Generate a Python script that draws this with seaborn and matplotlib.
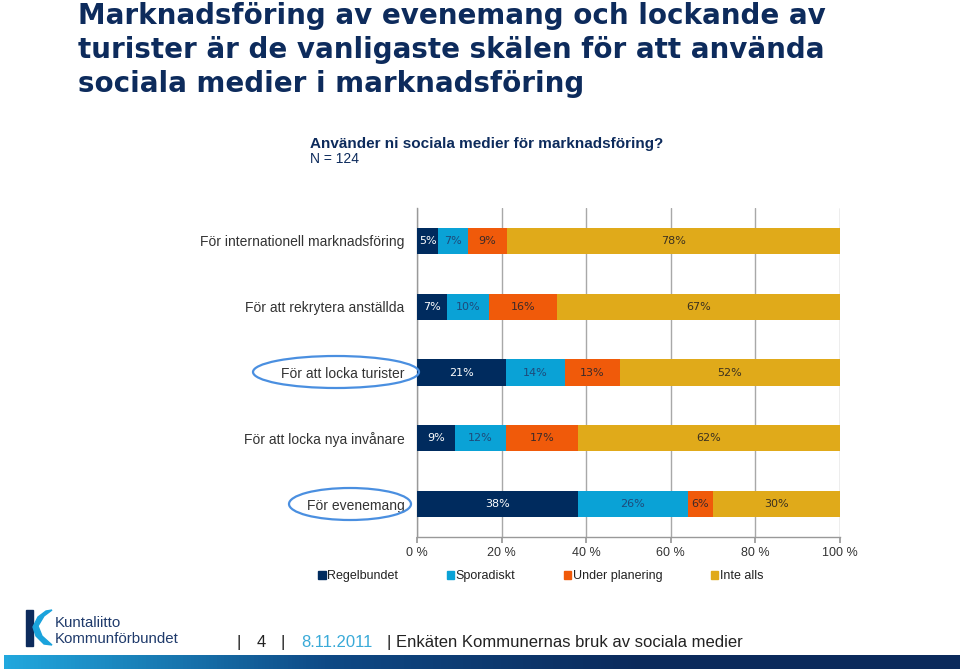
import numpy as np
import pandas as pd
import matplotlib
matplotlib.use("Agg")
import matplotlib.pyplot as plt
import seaborn as sns
from matplotlib.patches import Ellipse, Rectangle, Polygon
from matplotlib import font_manager

# ---------------- data ----------------
categories = ["För internationell marknadsföring", "För att rekrytera anställda",
              "För att locka turister", "För att locka nya invånare", "För evenemang"]
regelbundet = [5, 7, 21, 9, 38]
sporadiskt = [7, 10, 14, 12, 26]
under_planering = [9, 16, 13, 17, 6]
inte_alls = [78, 67, 52, 62, 30]
series_names = ["Regelbundet", "Sporadiskt", "Under planering", "Inte alls"]
xtick_labels = ["0 %", "20 %", "40 %", "60 %", "80 %", "100 %"]

colors = ["#002B5E", "#0AA2D6", "#F05A0A", "#E0AA1A"]
label_colors = ["white", "#1E4A7A", "#3A2A2A", "#3A3020"]

sns.set_theme(style="white")
avail = {f.name for f in font_manager.fontManager.ttflist}
base_font = "Liberation Sans" if "Liberation Sans" in avail else "DejaVu Sans"
plt.rcParams["font.family"] = [base_font, "DejaVu Sans"]

W, H = 960, 671
fig = plt.figure(figsize=(W / 100, H / 100), dpi=100)

# ---------------- chart ----------------
ax = fig.add_axes([417 / W, 1 - 537 / H, (840 - 417) / W, (537 - 208) / H])

vals = np.array([regelbundet, sporadiskt, under_planering, inte_alls], dtype=float)
shares = vals / vals.sum(axis=0) * 100
cum = np.cumsum(shares, axis=0)

for i in range(3, -1, -1):
    df = pd.DataFrame({"cat": categories, "v": cum[i]})
    sns.barplot(data=df, x="v", y="cat", orient="h", color=colors[i],
                width=0.4, saturation=1, ax=ax, zorder=3, edgecolor="none",
                linewidth=0)

for i in range(4):
    for j in range(len(categories)):
        left = cum[i, j] - shares[i, j]
        ax.text(left + shares[i, j] / 2, j, f"{int(vals[i, j])}%", ha="center",
                va="center", fontsize=8, color=label_colors[i], zorder=5,
                family="DejaVu Sans")

ax.set_xlim(0, 100)
ax.set_ylim(len(categories) - 0.5, -0.5)
ax.set_xticks([0, 20, 40, 60, 80, 100])
ax.set_xticklabels(xtick_labels, fontsize=9, color="#333333")
ax.set_yticks(range(len(categories)))
ax.set_yticklabels(categories, fontsize=10, color="#333333")
ax.set_yticks(np.arange(-0.5, len(categories)), minor=True)
ax.tick_params(axis="y", which="major", length=0, pad=9)
ax.tick_params(axis="y", which="minor", length=4, color="#999999", direction="out")
ax.tick_params(axis="x", length=4, color="#999999", direction="out", pad=3, bottom=True)
ax.set_xlabel("")
ax.set_ylabel("")
ax.grid(axis="x", color="#A8A8A8", linewidth=1, zorder=0)
ax.set_axisbelow(True)
for s in ["top", "right"]:
    ax.spines[s].set_visible(False)
for s in ["left", "bottom"]:
    ax.spines[s].set_color("#999999")
    ax.spines[s].set_linewidth(1)

handles = [Rectangle((0, 0), 1, 1, color=c) for c in colors]
leg = fig.legend(handles, series_names, loc="center left", ncol=4,
                 bbox_to_anchor=(318 / W, 1 - 576 / H), frameon=False,
                 fontsize=9, handlelength=0.6, handleheight=0.6, handletextpad=0.15,
                 columnspacing=3.85, borderaxespad=0, borderpad=0)
for t in leg.get_texts():
    t.set_color("#222222")

# ---------------- overlay: titles, ellipses, footer ----------------
ov = fig.add_axes([0, 0, 1, 1], zorder=10)
ov.set_xlim(0, W)
ov.set_ylim(H, 0)
ov.axis("off")
ov.patch.set_alpha(0)

title_lines = ["Marknadsföring av evenemang och lockande av",
               "turister är de vanligaste skälen för att använda",
               "sociala medier i marknadsföring"]
for k, line in enumerate(title_lines):
    ov.text(78, 24 + 34 * k, line, fontsize=20, fontweight="bold", color="#0D2B5C",
            ha="left", va="baseline", family="DejaVu Sans")

ov.text(310, 148, "Använder ni sociala medier för marknadsföring?", fontsize=11,
        fontweight="bold", color="#0D2B5C", ha="left", va="baseline")
ov.text(310, 163, "N = 124", fontsize=10, color="#0D2B5C", ha="left", va="baseline")

for (cx, cy, w, h) in [(336, 372, 166, 32), (350, 504, 122, 32)]:
    ov.add_patch(Ellipse((cx, cy), w, h, fill=False, edgecolor="#4A8FE0", linewidth=1.6))

# logo
ov.add_patch(Rectangle((26, 610), 7, 36, color="#0D2B5C"))
ov.add_patch(Polygon([(33, 627), (38, 617), (46, 611), (52, 610), (44, 616), (38, 626),
                      (42, 636), (52, 645), (44, 644), (36, 636)],
                     closed=True, color="#1AA3DC"))
ov.text(55, 627, "Kuntaliitto", fontsize=10.8, color="#1F3A6B", va="baseline")
ov.text(55, 643, "Kommunförbundet", fontsize=10.8, color="#1F3A6B", va="baseline")

fy = 647
ov.text(237, fy, "|", fontsize=12, color="#222222", va="baseline")
ov.text(257, fy, "4", fontsize=12, color="#222222", va="baseline")
ov.text(281, fy, "|", fontsize=12, color="#222222", va="baseline")
ov.text(301, fy, "8.11.2011", fontsize=12, color="#3AAAD8", va="baseline")
ov.text(387, fy, "| Enkäten Kommunernas bruk av sociala medier", fontsize=12,
        color="#222222", va="baseline")

grad = np.linspace(0, 1, 256).reshape(1, -1)
cmap = matplotlib.colors.LinearSegmentedColormap.from_list(
    "g", ["#22A8DE", "#0F4A86", "#0B2A5B", "#0B2A5B"])
ov.imshow(grad, extent=(4, W, 669, 655), aspect="auto", cmap=cmap, zorder=1)
ov.set_xlim(0, W)
ov.set_ylim(H, 0)

fig.savefig("out.png", dpi=100)
